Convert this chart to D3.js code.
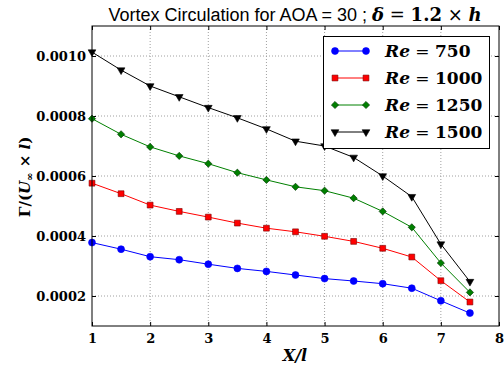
<!DOCTYPE html>
<html>
<head>
<meta charset="utf-8">
<script src="https://cdn.jsdelivr.net/npm/d3@7"></script>
<style>
  html, body { margin: 0; padding: 0; background: #fff; }
  svg { display: block; }
</style>
</head>
<body>
<svg id="chart" width="504" height="366"></svg>
<script>
// Streamwise stations X/l
const xStations = [1, 1.5, 2, 2.5, 3, 3.5, 4, 4.5, 5, 5.5, 6, 6.5, 7, 7.5];

// Non-dimensional vortex circulation per Reynolds number
const re750  = [0.000378, 0.000356, 0.000331, 0.000321, 0.000306, 0.000292, 0.000282, 0.000270, 0.000258, 0.000250, 0.000241, 0.000226, 0.000184, 0.000143];
const re1000 = [0.000576, 0.000541, 0.000503, 0.000482, 0.000463, 0.000443, 0.000426, 0.000414, 0.000399, 0.000382, 0.000359, 0.000330, 0.000251, 0.000180];
const re1250 = [0.000791, 0.000739, 0.000697, 0.000667, 0.000641, 0.000611, 0.000587, 0.000564, 0.000551, 0.000526, 0.000482, 0.000429, 0.000310, 0.000212];
const re1500 = [0.001013, 0.000953, 0.000900, 0.000864, 0.000828, 0.000794, 0.000757, 0.000716, 0.000700, 0.000662, 0.000600, 0.000531, 0.000373, 0.000248];

const reLabels = ["750", "1000", "1250", "1500"];
const xTicks = [1, 2, 3, 4, 5, 6, 7, 8];
const yTicks = [0.0002, 0.0004, 0.0006, 0.0008, 0.0010];

const series = [
  { re: reLabels[0], values: re750,  color: "#0000ff", marker: "circle" },
  { re: reLabels[1], values: re1000, color: "#ff0000", marker: "square" },
  { re: reLabels[2], values: re1250, color: "#008000", marker: "diamond" },
  { re: reLabels[3], values: re1500, color: "#000000", marker: "triangle" }
];

const svg = d3.select("#chart");
const plot = { left: 92, right: 499, top: 26, bottom: 326 };

const x = d3.scaleLinear().domain([1, 8]).range([plot.left, plot.right]);
const y = d3.scaleLinear().domain([0.0001, 0.0011]).range([plot.bottom, plot.top]);

const tickFont = "'DejaVu Serif', serif";

// Dotted grid
const grid = svg.append("g");
grid.selectAll("line.gx").data(xTicks.slice(1, -1)).join("line")
  .attr("x1", d => x(d)).attr("x2", d => x(d))
  .attr("y1", plot.top).attr("y2", plot.bottom)
  .attr("stroke", "#a0a0a0").attr("stroke-width", 1).attr("stroke-dasharray", "1,2");
grid.selectAll("line.gy").data(yTicks).join("line")
  .attr("x1", plot.left).attr("x2", plot.right)
  .attr("y1", d => y(d)).attr("y2", d => y(d))
  .attr("stroke", "#a0a0a0").attr("stroke-width", 1).attr("stroke-dasharray", "1,2");

// Axes (ticks pointing inward, mirrored on opposite sides)
const xAxis = d3.axisBottom(x).tickValues(xTicks).tickFormat(d3.format("d")).tickSizeInner(-4).tickSizeOuter(0).tickPadding(8);
const yAxis = d3.axisLeft(y).tickValues(yTicks).tickFormat(d3.format(".4f")).tickSizeInner(-4).tickSizeOuter(0).tickPadding(6);

const gx = svg.append("g").attr("transform", `translate(0,${plot.bottom})`).call(xAxis);
const gy = svg.append("g").attr("transform", `translate(${plot.left},0)`).call(yAxis);
[gx, gy].forEach(g => {
  g.select(".domain").remove();
  g.selectAll(".tick line").attr("stroke", "#000");
  g.selectAll(".tick text").attr("fill", "#000")
    .style("font-family", tickFont).style("font-weight", "bold").style("font-size", "13px");
});

const gxTop = svg.append("g").attr("transform", `translate(0,${plot.top})`)
  .call(d3.axisTop(x).tickValues(xTicks).tickSizeInner(-4).tickSizeOuter(0).tickFormat(""));
const gyRight = svg.append("g").attr("transform", `translate(${plot.right},0)`)
  .call(d3.axisRight(y).tickValues(yTicks).tickSizeInner(-4).tickSizeOuter(0).tickFormat(""));
[gxTop, gyRight].forEach(g => { g.select(".domain").remove(); g.selectAll(".tick line").attr("stroke", "#000"); });

// Marker shapes (diamond is a square turned by 45 degrees)
const symbolFor = {
  circle:   d3.symbol().type(d3.symbolCircle).size(38),
  square:   d3.symbol().type(d3.symbolSquare).size(34),
  diamond:  d3.symbol().type(d3.symbolSquare).size(26),
  triangle: d3.symbol().type(d3.symbolTriangle).size(26)
};
const markerRotate = { circle: "", square: "", diamond: " rotate(45)", triangle: " rotate(180)" };
const markerStroke = { circle: "#0000ff", square: "#7a0000", diamond: "#003300", triangle: "#000" };

function addMarker(parent, kind, color, px, py) {
  parent.append("path").attr("d", symbolFor[kind]())
    .attr("fill", color).attr("stroke", markerStroke[kind]).attr("stroke-width", 0.6)
    .attr("transform", `translate(${px},${py})` + markerRotate[kind]);
}

// Series lines and markers
const line = d3.line().x((d, i) => x(xStations[i])).y(d => y(d));
series.forEach(s => {
  const g = svg.append("g");
  g.append("path").attr("d", line(s.values))
    .attr("fill", "none").attr("stroke", s.color).attr("stroke-width", 1);
  s.values.forEach((v, i) => addMarker(g, s.marker, s.color, x(xStations[i]), y(v)));
});

// Axes frame
svg.append("rect")
  .attr("x", plot.left).attr("y", plot.top)
  .attr("width", plot.right - plot.left).attr("height", plot.bottom - plot.top)
  .attr("fill", "none").attr("stroke", "#000").attr("stroke-width", 1);

// Legend
const legend = svg.append("g");
legend.append("rect")
  .attr("x", 323.5).attr("y", 36.5).attr("width", 166).attr("height", 112)
  .attr("fill", "#fff").attr("stroke", "#000").attr("stroke-width", 1);
series.forEach((s, i) => {
  const ly = 51 + i * 27;
  legend.append("line").attr("x1", 335).attr("x2", 366).attr("y1", ly).attr("y2", ly)
    .attr("stroke", s.color).attr("stroke-width", 1);
  [335, 366].forEach(px => addMarker(legend, s.marker, s.color, px, ly));
  const t = legend.append("text").attr("x", 385).attr("y", ly + 6)
    .style("font-family", tickFont).style("font-size", "17px");
  t.append("tspan").style("font-weight", "bold").style("font-style", "italic").text("Re");
  t.append("tspan").text(" = ");
  t.append("tspan").style("font-weight", "bold").text(s.re);
});

// Title
const title = svg.append("text").attr("x", 295).attr("y", 21).attr("text-anchor", "middle")
  .style("font-size", "18px").attr("fill", "#000");
title.append("tspan").style("font-family", "'Liberation Sans', Arial, sans-serif").text("Vortex Circulation for AOA = 30 ; ");
title.append("tspan").style("font-family", tickFont).style("font-weight", "bold").style("font-style", "italic").text("δ");
title.append("tspan").style("font-family", tickFont).text(" = ");
title.append("tspan").style("font-family", tickFont).style("font-weight", "bold").text("1.2");
title.append("tspan").style("font-family", tickFont).text(" × ");
title.append("tspan").style("font-family", tickFont).style("font-weight", "bold").style("font-style", "italic").text("h");

// X axis label
svg.append("text").attr("x", 295).attr("y", 361).attr("text-anchor", "middle")
  .style("font-family", tickFont).style("font-size", "16px").style("font-weight", "bold").style("font-style", "italic")
  .text("X/l");

// Y axis label
const yl = svg.append("text").attr("transform", "translate(30,177) rotate(-90)").attr("text-anchor", "middle")
  .style("font-family", tickFont).style("font-size", "15px").style("font-weight", "bold");
yl.append("tspan").text("Γ/(");
yl.append("tspan").style("font-style", "italic").text("U");
yl.append("tspan").attr("dy", 3).style("font-size", "10px").text("∞");
yl.append("tspan").attr("dy", -3).text(" × ");
yl.append("tspan").style("font-style", "italic").text("l");
yl.append("tspan").text(")");
</script>
</body>
</html>
